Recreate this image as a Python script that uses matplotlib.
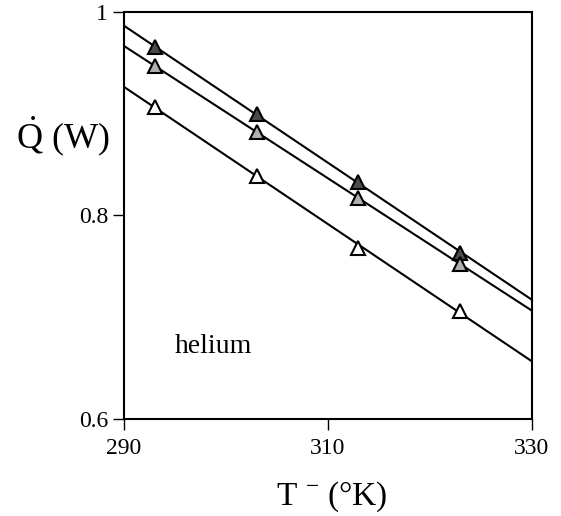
import numpy as np
import matplotlib
matplotlib.use("Agg")
import matplotlib.pyplot as plt

plt.rcParams['font.family'] = ['Liberation Serif', 'DejaVu Serif']
plt.rcParams['mathtext.fontset'] = 'custom'
plt.rcParams['mathtext.rm'] = 'Liberation Serif'
plt.rcParams['mathtext.it'] = 'Liberation Serif:italic'

temps = [293, 303, 313, 323]
q_dark = [0.965, 0.900, 0.833, 0.763]
q_gray = [0.947, 0.882, 0.817, 0.752]
q_white = [0.907, 0.839, 0.768, 0.706]

series = [(q_dark, '#4a4a4a'), (q_gray, '#b0b0b0'), (q_white, 'white')]

fig = plt.figure(figsize=(5.61, 5.16), dpi=100)
ax = fig.add_axes([0.221, 0.188, 0.727, 0.789])

xfit = np.array([290, 330])
for q, c in series:
    p = np.polyfit(temps, q, 1)
    ax.plot(xfit, np.polyval(p, xfit), color='black', lw=1.5, zorder=2)
    ax.plot(temps, q, linestyle='none', marker='^', markersize=10,
            markerfacecolor=c, markeredgecolor='black', markeredgewidth=1.5, zorder=3)

ax.set_xlim(290, 330)
ax.set_ylim(0.6, 1.0)
ax.set_xticks([290, 310, 330])
ax.set_yticks([0.6, 0.8, 1.0])
ax.set_yticklabels(['0.6', '0.8', '1'])
ax.tick_params(direction='out', length=8, width=1, labelsize=17)
ax.tick_params(axis='x', pad=6)
for s in ax.spines.values():
    s.set_linewidth(1.5)

ax.text(295.0, 0.665, 'helium', fontsize=20, va='baseline', ha='left')
fig.text(0.592, 0.021, r'T $^{\mathrm{-}}$ (°K)', fontsize=24, ha='center', va='baseline')
fig.text(0.112, 0.713, r'$\dot{\mathrm{Q}}$ (W)', fontsize=26, ha='center', va='baseline')

fig.savefig('out.png', dpi=100)
